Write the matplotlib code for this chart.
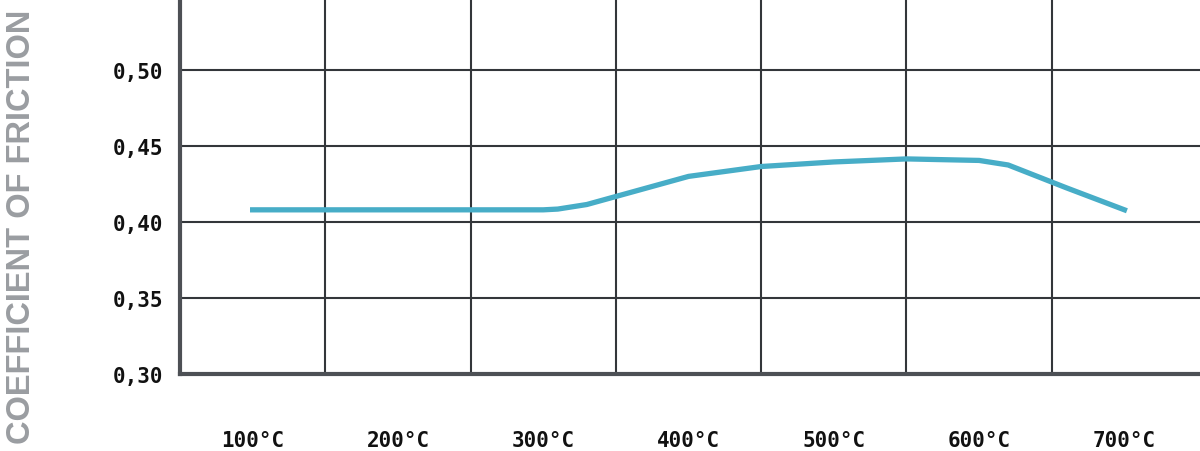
import matplotlib
matplotlib.use("Agg")
import matplotlib.pyplot as plt
from matplotlib import font_manager

# friction curve
temps = [100, 300, 310, 330, 400, 450, 500, 550, 600, 620, 660, 700]
mu = [0.408, 0.408, 0.4085, 0.4115, 0.430, 0.4365, 0.4395, 0.4415, 0.4405, 0.4375, 0.4225, 0.408]

x_labels = ["100°C", "200°C", "300°C", "400°C", "500°C", "600°C", "700°C"]
x_label_pos = [100, 200, 300, 400, 500, 600, 700]
x_grid = [150, 250, 350, 450, 550, 650]
y_ticks = [0.30, 0.35, 0.40, 0.45, 0.50]
y_labels = ["0,30", "0,35", "0,40", "0,45", "0,50"]

names = {f.name for f in font_manager.fontManager.ttflist}
label_font = "Liberation Sans Narrow" if "Liberation Sans Narrow" in names else "Liberation Sans"
label_size = 27 if label_font == "Liberation Sans Narrow" else 23.5

fig = plt.figure(figsize=(12, 4.52), dpi=100)
ax = fig.add_axes([180 / 1200, 77 / 452, 1020 / 1200, 375 / 452])

ax.plot(temps, mu, color="#47adc7", lw=3.8, solid_joinstyle="round", zorder=3)

ax.set_xlim(50, 752)
ax.set_ylim(0.30, 0.5467)

ax.set_xticks(x_label_pos)
ax.set_xticklabels(x_labels)
ax.set_xticks(x_grid, minor=True)
ax.set_yticks(y_ticks)
ax.set_yticklabels(y_labels)

ax.tick_params(axis="both", which="both", length=0)
ax.tick_params(axis="x", pad=40)
ax.tick_params(axis="y", pad=12)
for lab in ax.get_xticklabels() + ax.get_yticklabels():
    lab.set_fontfamily("DejaVu Sans Mono")
    lab.set_fontsize(15)
    lab.set_fontweight("bold")
    lab.set_color("#111111")

ax.grid(False)
ax.grid(True, axis="x", which="minor", color="#33363a", lw=1.5)
ax.grid(True, axis="y", which="major", color="#33363a", lw=1.5)

for side in ["top", "right"]:
    ax.spines[side].set_visible(False)
for side in ["left", "bottom"]:
    ax.spines[side].set_color("#4d5055")
    ax.spines[side].set_linewidth(3)
    ax.spines[side].set_zorder(4)

fig.text(22 / 1200, 1 - 227 / 452, "COEFFICIENT OF FRICTION", rotation=90,
         ha="center", va="center", fontfamily=label_font, fontweight="bold",
         fontsize=label_size, color="#9a9da1")

fig.savefig("out.png", dpi=100)
